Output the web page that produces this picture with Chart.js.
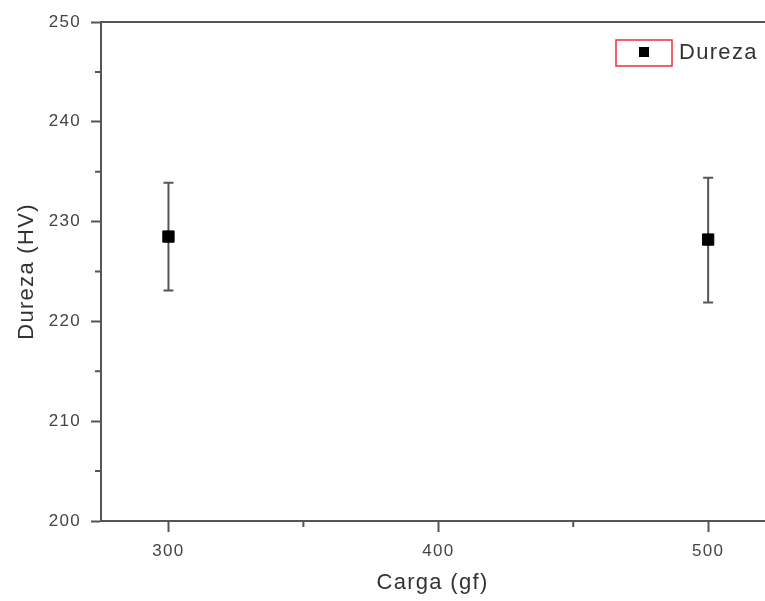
<!DOCTYPE html>
<html>
<head>
<meta charset="utf-8">
<script src="https://cdn.jsdelivr.net/npm/chart.js@4"></script>
<style>
html,body{margin:0;padding:0;background:#fff;overflow:hidden;}
#wrap{width:765px;height:601px;position:relative;overflow:hidden;}
</style>
</head>
<body>
<div id="wrap"><canvas id="c" width="773" height="601"></canvas></div>
<script>
const loads = [300, 500];
const hardness = [228.5, 228.2];
const errUpper = [233.9, 234.4];
const errLower = [223.1, 221.9];
const xTickValues = [300, 400, 500];
const xMinorValues = [350, 450];
const yTickValues = [200, 210, 220, 230, 240, 250];
const yMinorValues = [205, 215, 225, 235, 245];
const seriesName = 'Dureza';
const xTitle = 'Carga (gf)';
const yTitle = 'Dureza (HV)';

const axisColor = '#555';
const textColor = '#444';
const FONT = "'Liberation Sans', Arial, sans-serif";

const points = loads.map((x, i) => ({x: x, y: hardness[i], hi: errUpper[i], lo: errLower[i]}));

const spacingPlugin = {
  id: 'spacing',
  beforeDraw(chart) { chart.ctx.letterSpacing = '1.3px'; }
};

const errorBars = {
  id: 'errorBars',
  beforeDatasetsDraw(chart) {
    const ctx = chart.ctx, xs = chart.scales.x, ys = chart.scales.y;
    ctx.save();
    ctx.strokeStyle = axisColor;
    ctx.lineWidth = 2;
    points.forEach(p => {
      const px = xs.getPixelForValue(p.x);
      const top = ys.getPixelForValue(p.hi);
      const bot = ys.getPixelForValue(p.lo);
      ctx.beginPath();
      ctx.moveTo(px, top); ctx.lineTo(px, bot);
      ctx.moveTo(px - 5, top); ctx.lineTo(px + 5, top);
      ctx.moveTo(px - 5, bot); ctx.lineTo(px + 5, bot);
      ctx.stroke();
    });
    ctx.restore();
  }
};

const minorTicks = {
  id: 'minorTicks',
  afterDraw(chart) {
    const ctx = chart.ctx, xs = chart.scales.x, ys = chart.scales.y, a = chart.chartArea;
    ctx.save();
    ctx.strokeStyle = axisColor;
    ctx.lineWidth = 2;
    ctx.beginPath();
    xMinorValues.forEach(v => {
      const px = xs.getPixelForValue(v);
      ctx.moveTo(px, a.bottom); ctx.lineTo(px, a.bottom + 6);
    });
    yMinorValues.forEach(v => {
      const py = ys.getPixelForValue(v);
      ctx.moveTo(a.left, py); ctx.lineTo(a.left - 6, py);
    });
    ctx.stroke();
    ctx.restore();
  }
};

const legendBox = {
  id: 'legendBox',
  afterDraw(chart) {
    const ctx = chart.ctx;
    ctx.save();
    ctx.strokeStyle = '#e8333a';
    ctx.lineWidth = 1.5;
    ctx.strokeRect(616, 40, 56, 26);
    ctx.fillStyle = '#000';
    ctx.fillRect(639, 47, 10, 10);
    ctx.fillStyle = '#333';
    ctx.font = '22px ' + FONT;
    ctx.textBaseline = 'middle';
    ctx.textAlign = 'left';
    ctx.letterSpacing = '1.3px';
    ctx.fillText(seriesName, 679, 53);
    ctx.restore();
  }
};

new Chart(document.getElementById('c'), {
  type: 'scatter',
  data: {
    datasets: [{
      label: seriesName,
      data: points,
      pointStyle: 'rect',
      pointRadius: 8,
      pointHoverRadius: 8,
      backgroundColor: '#000',
      borderColor: '#000',
      borderWidth: 1
    }]
  },
  options: {
    responsive: false,
    animation: false,
    devicePixelRatio: 1,
    layout: {padding: {top: 22, right: 0, left: 0, bottom: 0}},
    plugins: {legend: {display: false}, tooltip: {enabled: false}},
    scales: {
      x: {
        type: 'linear',
        position: 'bottom',
        min: 275,
        max: 520.7,
        afterBuildTicks: s => { s.ticks = xTickValues.map(v => ({value: v})); },
        afterFit: s => { s.height = 80; },
        grid: {drawOnChartArea: false, drawTicks: true, tickLength: 11, tickWidth: 2, tickColor: axisColor},
        border: {display: true, color: axisColor, width: 2},
        ticks: {color: textColor, font: {family: FONT, size: 17}, padding: 9, maxRotation: 0},
        title: {display: true, text: xTitle, color: '#333', font: {family: FONT, size: 22}, padding: {top: 0, bottom: 5}}
      },
      x2: {
        type: 'linear',
        position: 'top',
        min: 275,
        max: 520.7,
        afterFit: s => { s.height = 0; },
        grid: {display: false},
        border: {display: true, color: axisColor, width: 2},
        ticks: {display: false}
      },
      y: {
        type: 'linear',
        position: 'left',
        min: 200,
        max: 250,
        afterBuildTicks: s => { s.ticks = yTickValues.map(v => ({value: v})); },
        afterFit: s => { s.width = 101; },
        grid: {drawOnChartArea: false, drawTicks: true, tickLength: 10, tickWidth: 2, tickColor: axisColor},
        border: {display: true, color: axisColor, width: 2},
        ticks: {color: textColor, font: {family: FONT, size: 17}, padding: 10},
        title: {display: true, text: yTitle, color: '#333', font: {family: FONT, size: 22}, padding: {top: 14, bottom: 0}}
      }
    }
  },
  plugins: [spacingPlugin, errorBars, minorTicks, legendBox]
});
</script>
</body>
</html>
